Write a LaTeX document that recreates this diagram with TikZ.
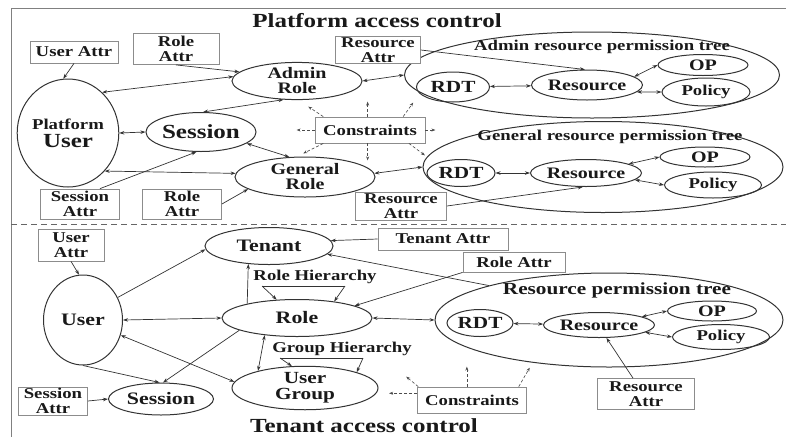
\documentclass[tikz,border=0pt]{standalone}
\usepackage{fontspec}
\setmainfont{Liberation Serif}[FakeStretch=1.25]
\usetikzlibrary{shapes.geometric,arrows.meta}

\begin{document}
\begin{tikzpicture}
          [x=1pt,y=-1pt,
          font=\fontsize{15}{15}\selectfont\bfseries,
          every node/.style={text=black!90},
          ell/.style 2 args={ellipse,draw=black!80,line width=1pt,inner sep=0pt,align=center,minimum width=#1pt,minimum height=#2pt},
          attr/.style 2 args={rectangle,draw=black!45,fill=white,line width=0.8pt,inner sep=0pt,align=center,minimum width=#1pt,minimum height=#2pt},
          big/.style={font=\fontsize{20}{20}\selectfont\bfseries},
          mid/.style={font=\fontsize{17.5}{17}\selectfont\bfseries},
          link/.style={<->,>={Stealth[length=5pt,width=3.5pt]},line width=0.7pt,draw=black!80},
          arc/.style={->,>={Stealth[length=5pt,width=3.5pt]},line width=0.7pt,draw=black!80},
          cons/.style={->,>={Stealth[length=4pt,width=3pt]},dash pattern=on 3pt off 2pt,line width=0.6pt,draw=black!70}]

            \useasboundingbox (0,0) rectangle (786,437);
            \draw[black!50,line width=0.8pt] (786,8) -- (11,8) -- (11,437);
            \draw[black!60,line width=0.7pt,dash pattern=on 6pt off 4pt] (11,224) -- (786,224);

            % platform part
            \node (ptitle) [big] at (377,21) {Platform access control};

            \node (admintree) [ell={375}{86}] at (592,75) {};
            \node (admtitle) at (602,47) {Admin resource permission tree};
            \node (rdtA) [ell={73}{30},font=\fontsize{17}{17}\selectfont\bfseries] at (453,87) {RDT};
            \node (resA) [ell={101}{30},font=\fontsize{16}{16}\selectfont\bfseries] at (587,85) {Resource};
            \node (opA) [ell={90}{21},font=\fontsize{16}{16}\selectfont\bfseries] at (703,65) {OP};
            \node (polA) [ell={88}{28}] at (706,92) {Policy};

            \node (gentree) [ell={360}{91}] at (603,167) {};
            \node (gentitle) at (610,137) {General resource permission tree};
            \node (rdtG) [ell={68}{27},font=\fontsize{17}{17}\selectfont\bfseries] at (461,173) {RDT};
            \node (resG) [ell={98}{27},font=\fontsize{16}{16}\selectfont\bfseries] at (586,173) {Resource};
            \node (opG) [ell={90}{20},font=\fontsize{16}{16}\selectfont\bfseries] at (705,157) {OP};
            \node (polG) [ell={97}{26}] at (713,185) {Policy};

            \node (uattrP) [attr={88}{22}] at (74,52) {User Attr};
            \node (rattrP) [attr={86}{31}] at (176,49) {Role\\Attr};
            \node (resattrA) [attr={85}{27}] at (378,50) {Resource\\Attr};
            \node (puser) [ell={100}{108}] at (68,133) {Platform\\[3pt]{\fontsize{20}{20}\selectfont User}};
            \node (adminrole) [ell={130}{37},font=\fontsize{16}{15}\selectfont\bfseries] at (297,81) {Admin\\Role};
            \node (sessP) [ell={108}{39},big] at (201,132) {Session};
            \node (consP) [attr={110}{26}] at (370,130) {Constraints};
            \node (genrole) [ell={140}{40},font=\fontsize{16}{15}\selectfont\bfseries] at (305,177) {General\\Role};
            \node (sattrP) [attr={79}{30}] at (80,204) {Session\\Attr};
            \node (rattrG) [attr={79}{30}] at (182,204) {Role\\Attr};
            \node (resattrG) [attr={91}{28}] at (401,206) {Resource\\Attr};

            \draw [arc] (uattrP.south) to (puser.95);
            \draw [arc] (rattrP.south) to (adminrole.171);
            \draw [link] (puser.50) to (adminrole.176);
            \draw [link] (adminrole.234) to (sessP.84);
            \draw [link] (puser.east) to (sessP.west);
            \draw [link] (sessP.346) to (genrole.128);
            \draw [link] (puser.314) to (genrole.177);
            \draw [arc] ([xshift=20pt]sattrP.north) to (sessP.257);
            \draw [arc] (rattrG.east) to (genrole.192);
            \draw [link] (adminrole.east) to (admintree.west);
            \draw [arc] (resattrA.east) to (resA.98);
            \draw [link] (rdtA) to (resA);
            \draw [link] (resA.10) to (opA.west);
            \draw [link] (resA.352) to (polA.west);
            \draw [link] (genrole.3) to (gentree.west);
            \draw [arc] (resattrG.east) to (resG.257);
            \draw [link] (rdtG) to (resG);
            \draw [link] (resG.12) to (opG.west);
            \draw [link] (resG.352) to (polG.west);
            \foreach \a/\dx/\dy in {180/-18/0, 164/-15/-10, 100/0/-15, 22/10/-14, 0/10/0, 341/16/12, 260/0/17, 196/-20/10}
              \draw [cons] (consP.\a) -- ++(\dx,\dy);

            % tenant part
            \node (ttitle) [big] at (364,426) {Tenant access control};

            \node (restree) [ell={348}{94}] at (609,320) {};
            \node (restitle) [font=\fontsize{17}{17}\selectfont\bfseries] at (617,290) {Resource permission tree};
            \node (rdtT) [ell={66}{27},font=\fontsize{17}{17}\selectfont\bfseries] at (480,323) {RDT};
            \node (resT) [ell={98}{25},font=\fontsize{16}{16}\selectfont\bfseries] at (599,325) {Resource};
            \node (opT) [ell={89}{20},font=\fontsize{16}{16}\selectfont\bfseries] at (712,311) {OP};
            \node (polT) [ell={97}{25}] at (721,337) {Policy};

            \node (uattrT) [attr={66}{32}] at (71,245) {User\\Attr};
            \node (user) [ell={79}{90},mid] at (83,320) {User};
            \node (tenant) [ell={128}{37},mid] at (269,246) {Tenant};
            \node (rolehier) at (315,277) {Role Hierarchy};
            \node (role) [ell={150}{37},mid] at (297,318) {Role};
            \node (grphier) at (342,349) {Group Hierarchy};
            \node (ugroup) [ell={146}{38},font=\fontsize{17}{16}\selectfont\bfseries] at (305,388) {User\\Group};
            \node (sessT) [ell={105}{32},mid] at (161,399) {Session};
            \node (sattrT) [attr={69}{28}] at (53,401) {Session\\Attr};
            \node (tattr) [attr={130}{22}] at (443,239) {Tenant Attr};
            \node (rattrT) [attr={102}{20}] at (514,262) {Role Attr};
            \node (resattrT) [attr={97}{31}] at (646,394) {Resource\\Attr};
            \node (consT) [attr={109}{26}] at (472,400) {Constraints};

            \coordinate (rhL) at (262,286);
            \coordinate (rhR) at (345,286);
            \coordinate (ghL) at (280,358);
            \coordinate (ghR) at (363,358);

            \draw [arc] (uattrT.south) to (user.95);
            \draw [arc] (user.33) to (tenant.183);
            \draw [link] (user.east) to (role.west);
            \draw [arc] (role.164) to (tenant.221);
            \draw [line width=0.7pt,draw=black!80] (rhL) -- (rhR);
            \draw [arc] (rhL) to (role.138);
            \draw [arc] (rhR) to (role.24);
            \draw [arc] (role.192) to (sessT.83);
            \draw [arc] (user.south) to (sessT.95);
            \draw [link] (user.338) to (ugroup.175);
            \draw [link] (role.208) to (ugroup.160);
            \draw [line width=0.7pt,draw=black!80] (ghL) -- (ghR);
            \draw [arc] (ghL) to (ugroup.121);
            \draw [arc] (ghR) to (ugroup.17);
            \draw [arc] (sattrT.east) to (sessT.west);
            \draw [arc] (tattr.west) to (tenant.5);
            \draw [arc] (rattrT.south west) to (role.12);
            \draw [arc] (restree.164) to (tenant.352);
            \draw [link] (role.east) to (restree.west);
            \draw [link] (rdtT) to (resT);
            \draw [link] (resT.11) to (opT.west);
            \draw [link] (resT.351) to (polT.west);
            \draw [arc] ([xshift=-13pt]resattrT.north) to (resT.300);
            \foreach \a/\dx/\dy in {173/-28/0, 166/-12/-10, 111/0/-20, 16/11/-19}
              \draw [cons] (consT.\a) -- ++(\dx,\dy);

        \end{tikzpicture}
\end{document}
